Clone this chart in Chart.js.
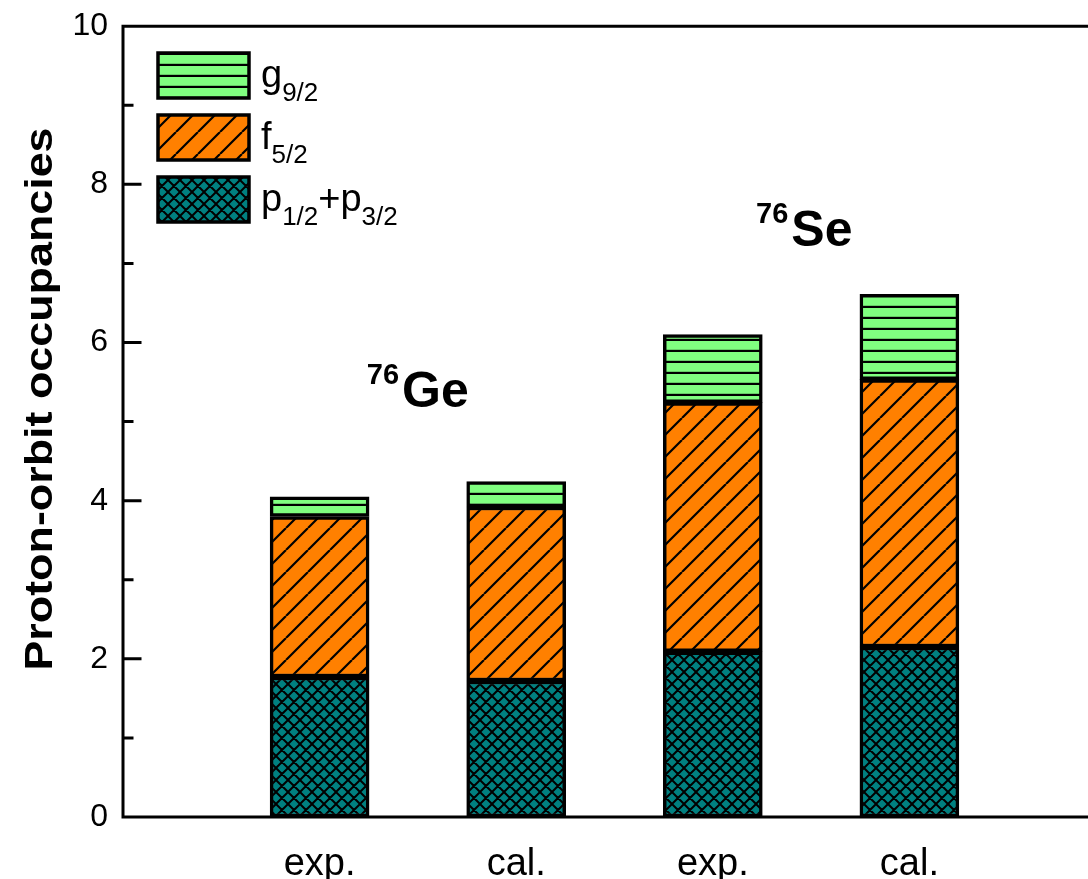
<!DOCTYPE html>
<html>
<head>
<meta charset="utf-8">
<script src="https://cdn.jsdelivr.net/npm/chart.js@4.4.1/dist/chart.umd.min.js"></script>
<style>
  html, body { margin: 0; padding: 0; background: #fff; overflow: hidden; }
  #wrap { width: 1130px; height: 879px; }
</style>
</head>
<body>
<div id="wrap"><canvas id="occChart" width="1130" height="879"></canvas></div>
<script>
// bar positions on the x axis and their labels
const positions = [1, 2, 3, 4];
const categories = ['exp.', 'cal.', 'exp.', 'cal.'];

// stacked proton-orbit occupancies (segment heights)
const pOrbit = [1.77, 1.72, 2.09, 2.15];   // p1/2 + p3/2
const fOrbit = [2.03, 2.20, 3.15, 3.38];   // f5/2
const gOrbit = [0.25, 0.32, 0.86, 1.08];   // g9/2

const yTicks = [0, 2, 4, 6, 8, 10];
const nucleiNames = ['Ge', 'Se'];
const massNumbers = ['76', '76'];

const FONT = '"Liberation Sans", Arial, Helvetica, sans-serif';

// hatch patterns like the original plot
function makePattern(kind, color) {
  const s = kind === 'diag' ? 22 : (kind === 'horiz' ? 11 : 12);
  const c = document.createElement('canvas');
  c.width = s; c.height = s;
  const g = c.getContext('2d');
  g.fillStyle = color;
  g.fillRect(0, 0, s, s);
  g.strokeStyle = '#000';
  g.beginPath();
  if (kind === 'horiz') {
    g.lineWidth = 2.4;
    g.moveTo(0, s - 1); g.lineTo(s, s - 1);
  } else if (kind === 'diag') {
    g.lineWidth = 2.2;
    for (let i = -1; i <= 1; i++) {
      g.moveTo(i * s, s); g.lineTo(i * s + s, 0);
    }
  } else {
    g.lineWidth = 2;
    for (let i = -1; i <= 1; i++) {
      g.moveTo(i * s, s); g.lineTo(i * s + s, 0);
      g.moveTo(i * s, 0); g.lineTo(i * s + s, s);
    }
  }
  g.stroke();
  return g.createPattern(c, 'repeat');
}

const greenFill = makePattern('horiz', '#80ff80');
const orangeFill = makePattern('diag', '#ff8000');
const tealFill = makePattern('cross', '#008080');

const toPoints = arr => arr.map((v, i) => ({ x: positions[i], y: v }));

const legendItems = [
  { parts: [['g', 0], ['9/2', 1]], fill: greenFill },
  { parts: [['f', 0], ['5/2', 1]], fill: orangeFill },
  { parts: [['p', 0], ['1/2', 1], ['+p', 0], ['3/2', 1]], fill: tealFill }
];

const decor = {
  id: 'decor',
  afterDatasetsDraw(chart) {
    const { ctx, chartArea: a, scales: { x, y } } = chart;
    ctx.save();

    // frame and inward ticks
    ctx.strokeStyle = '#000';
    ctx.lineWidth = 3;
    ctx.lineCap = 'square';
    ctx.beginPath();
    ctx.moveTo(a.right, a.top); ctx.lineTo(a.left, a.top);
    ctx.lineTo(a.left, a.bottom); ctx.lineTo(a.right, a.bottom);
    for (let v = 0; v <= 10; v++) {
      const py = y.getPixelForValue(v);
      const len = v % 2 === 0 ? 17 : 9;
      ctx.moveTo(a.left, py); ctx.lineTo(a.left + len, py);
    }
    ctx.stroke();

    // y axis title
    ctx.save();
    ctx.translate(42, 399);
    ctx.rotate(-Math.PI / 2);
    ctx.scale(1.18, 1);
    ctx.font = 'bold 38px ' + FONT;
    ctx.fillStyle = '#000';
    ctx.textAlign = 'center';
    ctx.textBaseline = 'middle';
    ctx.fillText('Proton-orbit occupancies', 0, 0);
    ctx.restore();

    // legend
    const boxTops = [53, 115, 177];
    legendItems.forEach((item, i) => {
      const top = boxTops[i];
      ctx.fillStyle = item.fill;
      ctx.fillRect(158, top, 91, 45);
      ctx.lineWidth = 3.5;
      ctx.strokeStyle = '#000';
      ctx.strokeRect(158, top, 91, 45);
      let tx = 261;
      const base = top + 34;
      ctx.fillStyle = '#000';
      ctx.textAlign = 'left';
      ctx.textBaseline = 'alphabetic';
      item.parts.forEach(([txt, sub]) => {
        ctx.font = (sub ? '26px ' : '38px ') + FONT;
        ctx.fillText(txt, tx, sub ? base + 14 : base);
        tx += ctx.measureText(txt).width;
      });
    });

    // nucleus labels
    const labelPos = [[1.24, 5.18], [3.22, 7.22]];
    nucleiNames.forEach((nm, i) => {
      const px = x.getPixelForValue(labelPos[i][0]);
      const py = y.getPixelForValue(labelPos[i][1]);
      ctx.fillStyle = '#000';
      ctx.textAlign = 'left';
      ctx.textBaseline = 'alphabetic';
      ctx.font = 'bold 29px ' + FONT;
      ctx.fillText(massNumbers[i], px, py - 23);
      const w = ctx.measureText(massNumbers[i]).width;
      ctx.font = 'bold 50px ' + FONT;
      ctx.fillText(nm, px + w + 3, py);
    });

    ctx.restore();
  }
};

const barStyle = { borderColor: '#000', borderWidth: 3.5, borderSkipped: false, barThickness: 99 };

new Chart(document.getElementById('occChart'), {
  type: 'bar',
  data: {
    datasets: [
      { label: 'p1/2+p3/2', data: toPoints(pOrbit), backgroundColor: tealFill, ...barStyle },
      { label: 'f5/2', data: toPoints(fOrbit), backgroundColor: orangeFill, ...barStyle },
      { label: 'g9/2', data: toPoints(gOrbit), backgroundColor: greenFill, ...barStyle }
    ]
  },
  options: {
    responsive: false,
    devicePixelRatio: 1,
    animation: false,
    layout: { padding: { left: 0, top: 19, right: 24, bottom: 0 } },
    plugins: { legend: { display: false }, tooltip: { enabled: false } },
    scales: {
      x: {
        type: 'linear',
        stacked: true,
        offset: false,
        min: 0,
        max: 5,
        grid: { display: false },
        border: { display: false },
        ticks: {
          stepSize: 1,
          autoSkip: false,
          maxRotation: 0,
          padding: 17,
          color: '#000',
          font: { family: FONT, size: 38 },
          callback: v => {
            const i = positions.indexOf(v);
            return i >= 0 ? categories[i] : '';
          }
        },
        afterFit: s => { s.height = 62; }
      },
      y: {
        stacked: true,
        min: 0,
        max: 10,
        grid: { display: false },
        border: { display: false },
        afterBuildTicks: s => { s.ticks = yTicks.map(v => ({ value: v })); },
        ticks: {
          padding: 7,
          color: '#000',
          font: { family: FONT, size: 32 }
        },
        afterFit: s => { s.width = 123; }
      }
    }
  },
  plugins: [decor]
});
</script>
</body>
</html>
